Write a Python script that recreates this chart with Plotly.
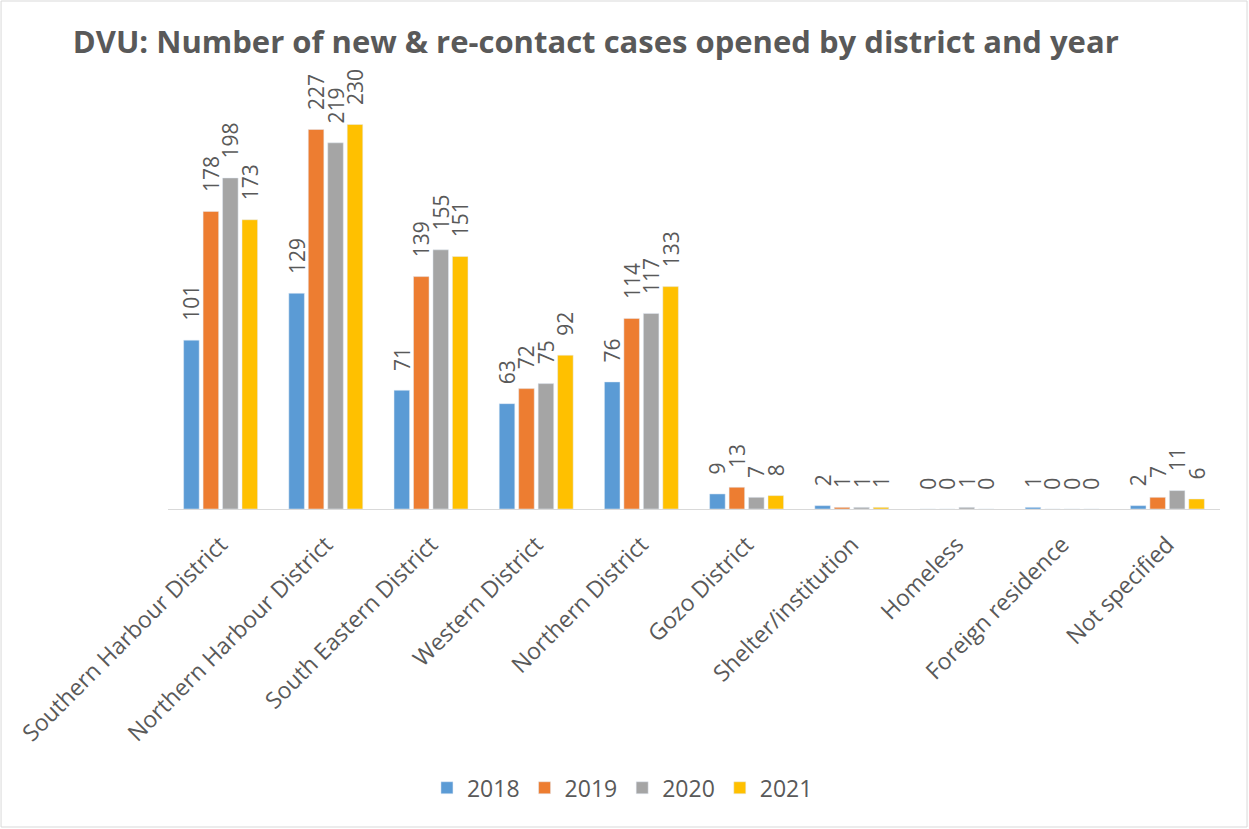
import plotly.graph_objects as go

# District categories and yearly case counts
districts = [
    "Southern Harbour District", "Northern Harbour District", "South Eastern District",
    "Western District", "Northern District", "Gozo District", "Shelter/institution",
    "Homeless", "Foreign residence", "Not specified",
]
years = ["2018", "2019", "2020", "2021"]
cases_2018 = [101, 129, 71, 63, 76, 9, 2, 0, 1, 2]
cases_2019 = [178, 227, 139, 72, 114, 13, 1, 0, 0, 7]
cases_2020 = [198, 219, 155, 75, 117, 7, 1, 1, 0, 11]
cases_2021 = [173, 230, 151, 92, 133, 8, 1, 0, 0, 6]

YEAR_COLORS = ['#5B9BD5', '#ED7D31', '#A5A5A5', '#FFC000']
TEXT_GREY = '#595959'

fig = go.Figure()
for year, values, color in zip(years, [cases_2018, cases_2019, cases_2020, cases_2021], YEAR_COLORS):
    fig.add_trace(go.Bar(
        x=districts,
        y=values,
        name=year,
        marker=dict(color=color),
        # a little padding between bar top and rotated label, like Excel
        text=['\u00a0\u00a0\u00a0' + str(v) for v in values],
        textposition='outside',
        textangle=-90,
        constraintext='none',
        textfont=dict(size=21, color=TEXT_GREY),
        cliponaxis=False,
    ))

fig.update_layout(
    title=dict(
        text="<b>DVU: Number of new & re-contact cases opened by district and year</b>",
        x=0.477, xanchor='center', y=0.949, yanchor='middle',
        font=dict(size=31, color=TEXT_GREY, family="Open Sans"),
    ),
    barmode='group',
    bargap=0.26,
    bargroupgap=0.2,
    width=1249,
    height=829,
    margin=dict(t=91, b=320, l=168, r=29, autoexpand=False),
    paper_bgcolor='white',
    plot_bgcolor='white',
    font=dict(family="Open Sans", color=TEXT_GREY),
    xaxis=dict(
        tickangle=-45,
        tickfont=dict(size=23, color=TEXT_GREY),
        showline=True, linecolor='#D9D9D9', linewidth=1,
        ticks='',
        ticklabelstandoff=12,
        automargin=False,
    ),
    yaxis=dict(
        range=[0, 250],
        visible=False,
        showgrid=False,
    ),
    legend=dict(
        orientation='h',
        x=0.432, xanchor='center',
        y=-0.667, yanchor='middle',
        font=dict(size=23, color=TEXT_GREY),
        itemwidth=30,
    ),
    shapes=[dict(
        type='rect', xref='paper', yref='paper',
        x0=-0.1587, x1=1.0257, y0=-0.7608, y1=1.2153,
        line=dict(color='#D9D9D9', width=1),
    )],
)

# drop the browser's default body margin so the chart sits at the page origin
fig.write_html(
    "out.html",
    config={'displayModeBar': False},
    post_script="document.body.style.margin='0';",
)
